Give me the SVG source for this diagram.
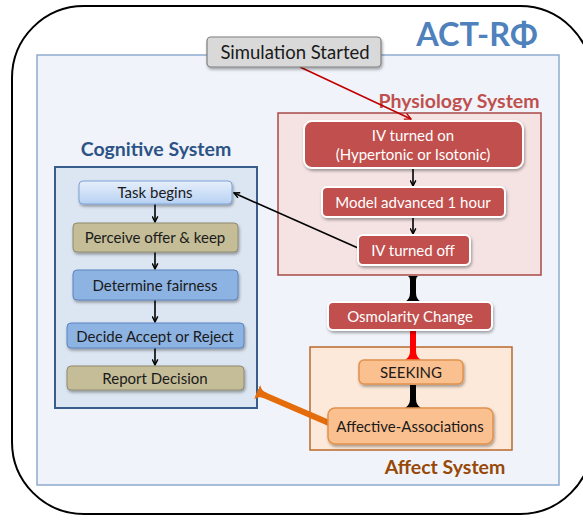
<svg xmlns="http://www.w3.org/2000/svg" width="583" height="520" viewBox="0 0 583 520">
<defs>
<style>
text{font-family:Lato,"Liberation Sans",sans-serif;text-anchor:middle;dominant-baseline:central}
.lbl{font-size:15px;fill:#1a1a1a}
.wl{font-size:15px;fill:#ffffff}
.ttl{font-size:19.5px;font-weight:bold}
.red{fill:#c0504d;stroke:#ffffff;stroke-width:2}
.tan{fill:#c4bd97;stroke:#8f8a6e;stroke-width:1}
.blu{fill:#8db3e2;stroke:#5a84bf;stroke-width:1}
.org{fill:#fac090;stroke:#e0914c;stroke-width:1.5}
.sh{filter:url(#ds)}
.thin{stroke:#000;stroke-width:1.6;fill:none;marker-end:url(#ah)}
</style>
<filter id="ds" x="-20%" y="-30%" width="140%" height="170%">
<feDropShadow dx="1" dy="2" stdDeviation="1.4" flood-color="#000" flood-opacity="0.35"/>
</filter>
<linearGradient id="gtask" x1="0" y1="0" x2="0" y2="1">
<stop offset="0" stop-color="#e6effb"/>
<stop offset="1" stop-color="#b7d1f3"/>
</linearGradient>
<marker id="ah" viewBox="0 0 10 10" refX="9" refY="5" markerWidth="7" markerHeight="7" orient="auto" markerUnits="userSpaceOnUse">
<path d="M1,1 L9,5 L1,9" fill="none" stroke="#000" stroke-width="2"/>
</marker>
<marker id="ahr" viewBox="0 0 10 10" refX="9" refY="5" markerWidth="8" markerHeight="8" orient="auto" markerUnits="userSpaceOnUse">
<path d="M1,1 L9,5 L1,9" fill="none" stroke="#c00000" stroke-width="1.6"/>
</marker>
<marker id="fk" viewBox="-10 -10 10 20" refX="0" refY="0" markerWidth="10" markerHeight="20" orient="auto" markerUnits="userSpaceOnUse">
<path d="M-9,-3 Q-3,-3 0,-8 L0,8 Q-3,3 -9,3 Z" fill="#000"/>
</marker>
<marker id="fks" viewBox="0 -10 10 20" refX="0" refY="0" markerWidth="10" markerHeight="20" orient="auto" markerUnits="userSpaceOnUse">
<path d="M4,-3 Q1,-3 0,-5 L0,5 Q1,3 4,3 Z" fill="#000"/>
</marker>
<marker id="fr" viewBox="-10 -10 10 20" refX="0" refY="0" markerWidth="10" markerHeight="20" orient="auto" markerUnits="userSpaceOnUse">
<path d="M-9,-3 Q-3,-3 0,-8 L0,8 Q-3,3 -9,3 Z" fill="#ff0000"/>
</marker>
<marker id="fo" viewBox="-10 -10 10 20" refX="0" refY="0" markerWidth="10" markerHeight="20" orient="auto" markerUnits="userSpaceOnUse">
<path d="M-9,-3 Q-3,-3 0,-8 L0,8 Q-3,3 -9,3 Z" fill="#e46c0a"/>
</marker>
</defs>

<rect width="583" height="520" fill="#ffffff"/>

<g id="frame">
<rect x="12" y="6" width="580" height="508" rx="72" ry="72" fill="#ffffff" stroke="#000" stroke-width="2"/>
<text x="477" y="33" style="font-size:32.5px;font-weight:bold;fill:#4f81bd">ACT-RΦ</text>
</g>

<g id="panel">
<rect x="37" y="55" width="522" height="430" fill="#f0f4fa" stroke="#8eaad0" stroke-width="1.5"/>
</g>

<g id="physiology-system">
<rect x="278" y="113" width="263" height="162" fill="#f5e3e3" stroke="#a84a47" stroke-width="1.5"/>
<text class="ttl" x="459" y="100" fill="#c0504d">Physiology System</text>
</g>

<g id="cognitive-system">
<rect x="55" y="167" width="202" height="241" fill="#dce6f2" stroke="#385d8a" stroke-width="2"/>
<text class="ttl" x="156" y="148" fill="#2d5386">Cognitive System</text>
</g>

<g id="affect-system">
<rect x="310" y="347" width="202" height="103" fill="#fde9d9" stroke="#b86a2c" stroke-width="1.5"/>
<text class="ttl" x="445" y="466" fill="#984807">Affect System</text>
</g>

<g id="connectors">
<line x1="300" y1="67" x2="411" y2="119" stroke="#c00000" stroke-width="1.6" marker-end="url(#ahr)"/>
<line class="thin" x1="413" y1="168" x2="413" y2="186"/>
<line class="thin" x1="413" y1="217" x2="413" y2="234"/>
<line class="thin" x1="358" y1="248" x2="234" y2="193"/>
<line class="thin" x1="155" y1="204" x2="155" y2="222"/>
<line class="thin" x1="155" y1="252" x2="155" y2="269"/>
<line class="thin" x1="155" y1="300" x2="155" y2="322"/>
<line class="thin" x1="155" y1="348" x2="155" y2="365"/>
<line x1="413" y1="276" x2="413" y2="302" stroke="#000" stroke-width="6" marker-start="url(#fks)" marker-end="url(#fk)"/>
<line x1="413" y1="331" x2="413" y2="360" stroke="#ff0000" stroke-width="6" marker-end="url(#fr)"/>
<line x1="413" y1="385" x2="413" y2="408" stroke="#000" stroke-width="6" marker-end="url(#fk)"/>
<line x1="329" y1="423" x2="257" y2="392" stroke="#e46c0a" stroke-width="6" marker-end="url(#fo)"/>
</g>

<g id="simulation-started">
<rect class="sh" x="207" y="37" width="174" height="30" rx="4" fill="#d9d9d9" stroke="#7f7f7f" stroke-width="1.2"/>
<text x="295" y="52" style="font-size:18.5px;fill:#1a1a1a">Simulation Started</text>
</g>

<g id="iv-on">
<rect class="red sh" x="304" y="121" width="219" height="47" rx="8"/>
<text class="wl" x="413" y="135">IV turned on</text>
<text class="wl" x="413" y="154">(Hypertonic or Isotonic)</text>
</g>

<g id="model-advanced">
<rect class="red sh" x="322" y="187" width="183" height="30" rx="5"/>
<text class="wl" x="413" y="202">Model advanced 1 hour</text>
</g>

<g id="iv-off">
<rect class="red sh" x="358" y="235" width="112" height="30" rx="5"/>
<text class="wl" x="413" y="250">IV turned off</text>
</g>

<g id="osmolarity">
<rect class="red sh" x="328" y="302" width="164" height="28" rx="5"/>
<text class="wl" x="410" y="316">Osmolarity Change</text>
</g>

<g id="seeking">
<rect class="org sh" x="359" y="360" width="104" height="24" rx="5"/>
<text class="lbl" x="411" y="372">SEEKING</text>
</g>

<g id="affective">
<rect class="org sh" x="328" y="408" width="165" height="36" rx="7"/>
<text class="lbl" x="410" y="426">Affective-Associations</text>
</g>

<g id="task-begins">
<rect class="sh" x="79" y="181" width="153" height="23" rx="4" fill="url(#gtask)" stroke="#7ea3d6" stroke-width="1"/>
<text class="lbl" x="155" y="192">Task begins</text>
</g>

<g id="perceive">
<rect class="tan sh" x="73" y="223" width="165" height="29" rx="4"/>
<text class="lbl" x="155" y="237">Perceive offer &amp; keep</text>
</g>

<g id="fairness">
<rect class="blu sh" x="73" y="270" width="165" height="30" rx="4"/>
<text class="lbl" x="155" y="285">Determine fairness</text>
</g>

<g id="decide">
<rect class="blu sh" x="67" y="323" width="177" height="25" rx="4"/>
<text class="lbl" x="155" y="336">Decide Accept or Reject</text>
</g>

<g id="report">
<rect class="tan sh" x="67" y="366" width="177" height="24" rx="4"/>
<text class="lbl" x="155" y="378">Report Decision</text>
</g>
</svg>
